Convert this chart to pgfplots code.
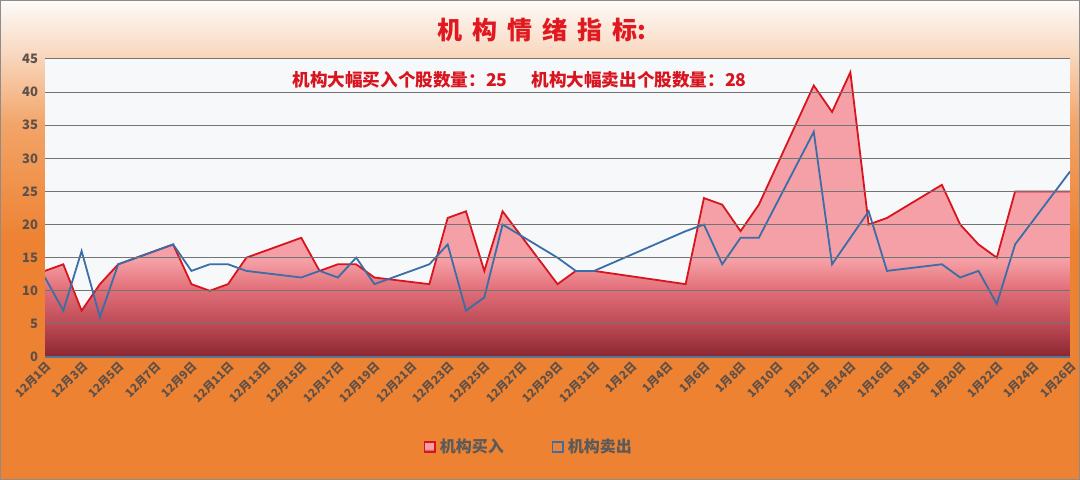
\documentclass[border=0pt]{standalone}
\usepackage{pgfplots}
\usepackage{pgfplotstable}
\pgfplotsset{compat=1.18}
\usepackage{fontspec}
\setmainfont{Noto Sans CJK SC}

\definecolor{bgor}{HTML}{ED8232}
\definecolor{bgmid}{HTML}{F2A468}
\definecolor{bglight}{HTML}{F9DCC6}
\definecolor{bgtop}{HTML}{FDFBF9}
\definecolor{titlered}{HTML}{E01820}
\definecolor{redline}{HTML}{D8141E}
\definecolor{blueline}{HTML}{3A6EA8}
\definecolor{fdark}{HTML}{8A2630}
\definecolor{fmid}{HTML}{BE4C57}
\definecolor{fmid2}{HTML}{E27079}
\definecolor{fpink}{HTML}{F5A0A6}
\definecolor{plotbg}{HTML}{F6F8FA}
\definecolor{ticktext}{HTML}{5E5048}
\definecolor{legendgray}{HTML}{5A5A5A}

\pgfdeclareverticalshading{bgshade}{100bp}{color(0bp)=(bgor); color(50bp)=(bgor); color(62bp)=(bgmid); color(70bp)=(bglight); color(75bp)=(bgtop); color(100bp)=(bgtop)}
\pgfdeclareverticalshading{redfill}{100bp}{color(0bp)=(fdark); color(25bp)=(fdark); color(31bp)=(fmid); color(37bp)=(fmid2); color(42bp)=(fpink); color(100bp)=(fpink)}

% d = days since 12月1日, buy/sell = 机构买入/卖出
\pgfplotstableread{
d buy sell
0 13 12
1 14 7
2 7 16
3 11 6
4 14 14
7 17 17
8 11 13
9 10 14
10 11 14
11 15 13
14 18 12
15 13 13
16 14 12
17 14 15
18 12 11
21 11 14
22 21 17
23 22 7
24 13 9
25 22 20
28 11 15
29 13 13
30 13 13
35 11 19
36 24 20
37 23 14
38 19 18
39 23 18
42 41 34
43 37 14
44 43 18
45 20 22
46 21 13
49 26 14
50 20 12
51 17 13
52 15 8
53 25 17
56 25 28
}\datatable

\begin{document}
\begin{tikzpicture}
\useasboundingbox (0,0) rectangle (540pt,240pt);
\shade[shading=bgshade] (0,0) rectangle (540pt,240pt);
\draw[black!45, line width=0.5pt] (0.25pt,0.25pt) rectangle (539.75pt,239.75pt);
\node[text=titlered, font=\bfseries\fontsize{12.5}{14}\selectfont] at (271pt,225pt)
  {机\hspace{5pt}构\hspace{5pt}情\hspace{5pt}绪\hspace{5pt}指\hspace{5pt}标:};
\begin{axis}[
  at={(22.5pt,61.5pt)}, anchor=south west,
  scale only axis, width=512.5pt, height=149pt,
  xmin=0, xmax=56, ymin=0, ymax=45,
  ytick={0,5,...,45},
  xtick={0,2,...,56},
  xticklabels={12月1日,12月3日,12月5日,12月7日,12月9日,12月11日,12月13日,12月15日,12月17日,12月19日,12月21日,12月23日,12月25日,12月27日,12月29日,12月31日,1月2日,1月4日,1月6日,1月8日,1月10日,1月12日,1月14日,1月16日,1月18日,1月20日,1月22日,1月24日,1月26日},
  x tick label style={rotate=45, anchor=north east, font=\bfseries\fontsize{5.8}{7}\selectfont, text=ticktext, inner sep=1pt},
  y tick label style={font=\bfseries\fontsize{6.5}{7}\selectfont, text=ticktext},
  /pgf/number format/assume math mode=true,
  tick style={draw=none},
  ymajorgrids, grid style={draw=black!55, line width=0.5pt},
  axis x line*=bottom, axis y line*=left,
  x axis line style={draw=blueline!60!gray, line width=0.6pt},
  y axis line style={draw=none},
  axis background/.style={fill=plotbg},
  axis on top,
  legend style={at={(0.473,0)}, anchor=center, yshift=-45pt, draw=none, fill=none,
    font=\bfseries\fontsize{8}{9}\selectfont, text=legendgray,
    legend columns=2, /tikz/every even column/.append style={column sep=22pt}},
]
\addplot[draw=none, shade, shading=redfill,
  legend image code/.code={\draw[draw=redline, fill=fpink, line width=0.8pt] (0pt,-2.6pt) rectangle (5.2pt,2.6pt);}]
  table[x=d, y=buy] {\datatable} \closedcycle;
\addlegendentry{机构买入}
\addplot[redline, line width=0.9pt, mark=none, forget plot] table[x=d, y=buy] {\datatable};
\addplot[blueline, line width=0.9pt, mark=none,
  legend image code/.code={\draw[draw=blueline, fill=none, line width=0.8pt] (0pt,-2.6pt) rectangle (5.2pt,2.6pt);}]
  table[x=d, y=sell] {\datatable};
\addlegendentry{机构卖出}
\node[text=redline, font=\bfseries\fontsize{8.8}{10}\selectfont] at (rel axis cs:0.463,0.93)
  {机构大幅买入个股数量：25\hspace{12pt}机构大幅卖出个股数量：28};
\end{axis}
\end{tikzpicture}
\end{document}
